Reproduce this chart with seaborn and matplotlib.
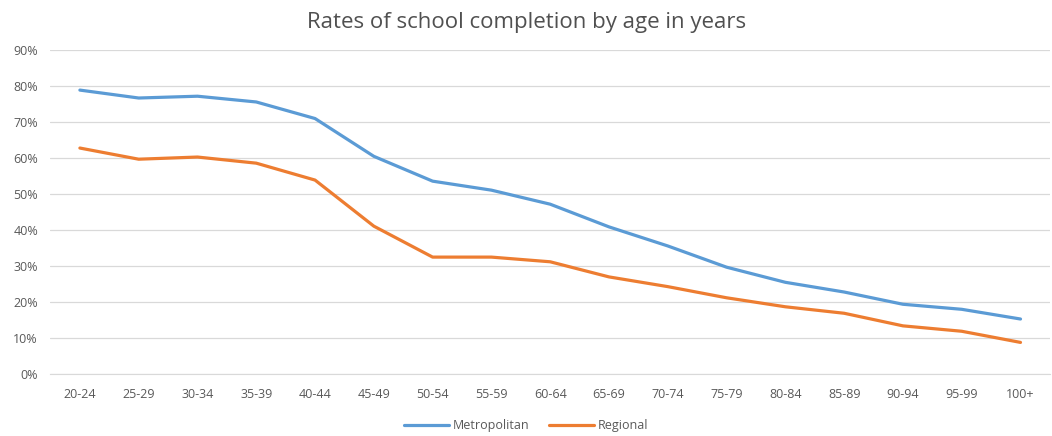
import matplotlib
matplotlib.use("Agg")
import matplotlib.pyplot as plt
import pandas as pd
import seaborn as sns
from matplotlib.ticker import PercentFormatter

# Data
ages = ['20-24', '25-29', '30-34', '35-39', '40-44', '45-49', '50-54', '55-59', '60-64',
        '65-69', '70-74', '75-79', '80-84', '85-89', '90-94', '95-99', '100+']
metropolitan = [0.789, 0.767, 0.772, 0.756, 0.710, 0.605, 0.536, 0.511, 0.472,
                0.409, 0.356, 0.297, 0.255, 0.228, 0.194, 0.180, 0.153]
regional = [0.628, 0.597, 0.603, 0.586, 0.539, 0.411, 0.325, 0.325, 0.312,
            0.270, 0.243, 0.212, 0.187, 0.169, 0.134, 0.119, 0.088]

df = pd.DataFrame({'Age': ages * 2,
                   'Rate': metropolitan + regional,
                   'Area': ['Metropolitan'] * len(ages) + ['Regional'] * len(ages)})
df['x'] = list(range(len(ages))) * 2

sns.set_style('white')
plt.rcParams['font.family'] = ['Open Sans', 'DejaVu Sans']

fig = plt.figure(figsize=(10.52, 4.36), dpi=100)
ax = fig.add_axes([0.048, 0.142, 0.95, 0.743])
sns.lineplot(data=df, x='x', y='Rate', hue='Area',
             palette={'Metropolitan': '#5B9BD5', 'Regional': '#ED7D31'},
             linewidth=2.3, ax=ax, legend=True)

ax.set_xlim(-0.5, len(ages) - 0.5)
ax.set_ylim(0, 0.9)
ax.set_xticks(range(len(ages)))
ax.set_xticklabels(ages)
ax.set_yticks([i / 10 for i in range(10)])
ax.yaxis.set_major_formatter(PercentFormatter(1.0, decimals=0))
ax.tick_params(axis='both', labelsize=9, colors='#595959', length=0)
ax.tick_params(axis='x', pad=10)
ax.tick_params(axis='y', pad=9)
ax.grid(axis='y', color='#D9D9D9', linewidth=0.9)
for s in ax.spines.values():
    s.set_visible(False)
ax.spines['bottom'].set_visible(True)
ax.spines['bottom'].set_color('#D9D9D9')
ax.set_xlabel('')
ax.set_ylabel('')
# centre the title on the figure rather than the axes
ax.set_title('Rates of school completion by age in years', fontsize=16, color='#505050',
             pad=16, x=0.476)

handles, labels = ax.get_legend_handles_labels()
ax.legend(handles, labels, loc='upper center', bbox_to_anchor=(0.476, -0.105), ncol=2,
          frameon=False, fontsize=9, labelcolor='#595959', handlelength=3.6,
          handletextpad=0.3, columnspacing=1.6)

fig.savefig('out.png', dpi=100)
